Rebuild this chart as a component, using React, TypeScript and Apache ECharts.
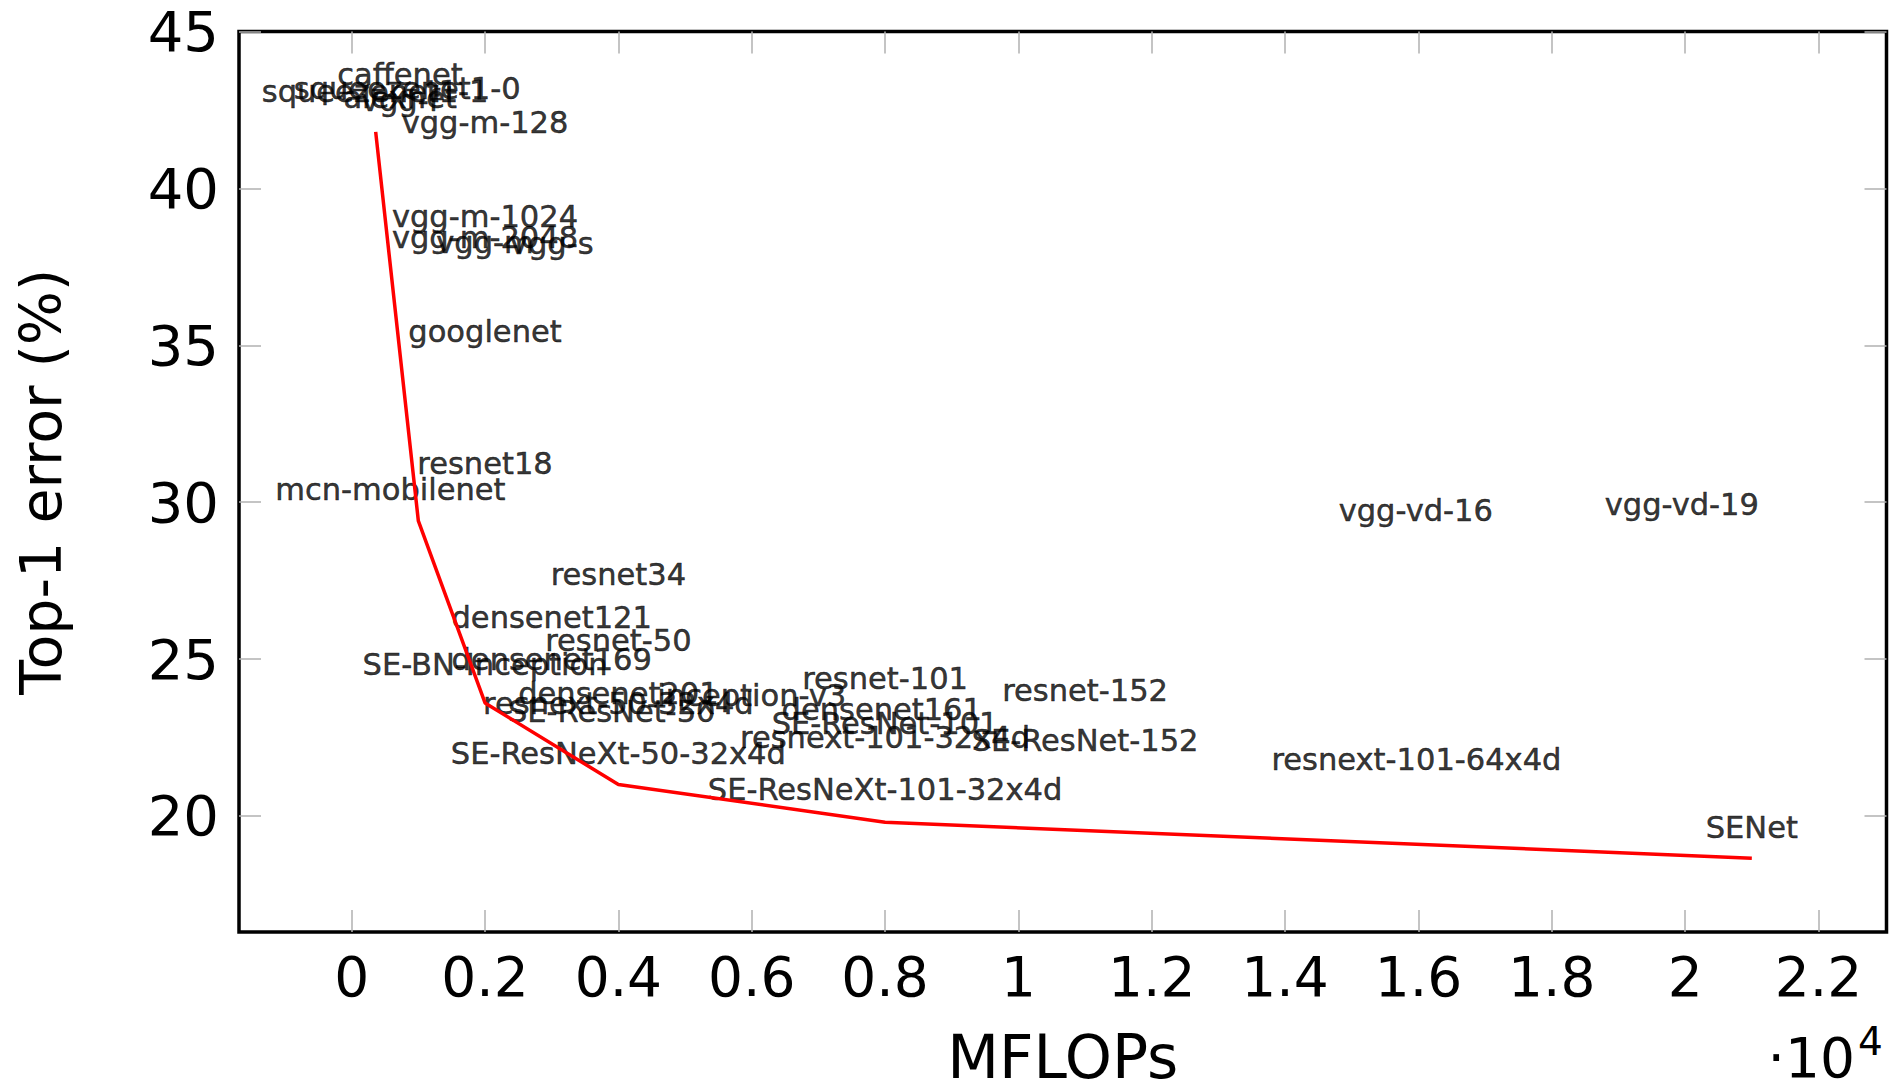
import React, { useEffect, useRef } from "react";
import * as echarts from "echarts";

// Model labels: name, compute (MFLOPs) and top-1 error (%)
const modelNames = [
  "squeezenet1-1", "squeezenet1-0", "caffenet", "alexnet", "vgg-f",
  "vgg-m-128", "vgg-m-1024", "vgg-m-2048", "vgg-m", "vgg-s",
  "googlenet", "resnet18", "mcn-mobilenet", "resnet34", "vgg-vd-16",
  "vgg-vd-19", "densenet121", "resnet-50", "densenet169", "SE-BN-Inception",
  "densenet201", "inception-v3", "resnext-50-32x4d", "SE-ResNet-50", "resnet-101",
  "densenet161", "SE-ResNet-101", "resnext-101-32x4d", "resnet-152", "SE-ResNet-152",
  "resnext-101-64x4d", "SE-ResNeXt-50-32x4d", "SE-ResNeXt-101-32x4d", "SENet",
];
const modelMflops = [
  352, 833, 724, 727, 727,
  2000, 2000, 2000, 2000, 3000,
  2000, 2000, 580, 4000, 15960,
  19950, 3000, 4000, 3000, 2000,
  4000, 6000, 4000, 3900, 8000,
  7950, 8000, 8000, 11000, 11000,
  15970, 4000, 8000, 21000,
];
const modelTop1Error = [
  42.1, 42.2, 42.65, 41.9, 41.8,
  41.1, 38.1, 37.45, 37.3, 37.25,
  34.45, 30.25, 29.4, 26.7, 28.75,
  28.95, 25.35, 24.6, 24.0, 23.85,
  22.9, 22.85, 22.6, 22.35, 23.4,
  22.4, 21.95, 21.5, 23.0, 21.4,
  20.8, 21.0, 19.85, 18.65,
];

// Pareto frontier (red line)
const frontierMflops = [360, 1000, 2000, 4000, 8000, 21000];
const frontierError = [41.8, 29.4, 23.6, 21.0, 19.8, 18.65];

// Axis ticks
const xTickValues = [0, 2000, 4000, 6000, 8000, 10000, 12000, 14000, 16000, 18000, 20000, 22000];
const yTickValues = [20, 25, 30, 35, 40, 45];

const FONT = "DejaVu Sans";

export default function App() {
  const ref = useRef<HTMLDivElement>(null);

  useEffect(() => {
    if (!ref.current) return;
    const chart = echarts.init(ref.current, null, { renderer: "svg" });

    const tickLine = { color: "#b0b0b0", width: 1.5 };
    const xFmt = (v: number) => String(+(v / 10000).toFixed(1));

    const scatterData = modelNames.map((n, i) => [modelMflops[i], modelTop1Error[i], n]);
    const lineData = frontierMflops.map((x, i) => [x, frontierError[i]]);

    chart.setOption({
      animation: false,
      backgroundColor: "#ffffff",
      grid: {
        left: 239,
        top: 31.5,
        width: 1647.5,
        height: 900.5,
        show: true,
        borderColor: "#000000",
        borderWidth: 3.5,
        backgroundColor: "transparent",
        containLabel: false,
        outerBoundsMode: "none",
      },
      xAxis: [
        {
          type: "value",
          position: "bottom",
          min: -1690,
          max: 23020,
          name: "MFLOPs",
          nameLocation: "middle",
          nameGap: 101,
          nameTextStyle: { fontFamily: FONT, fontSize: 60, lineHeight: 48, color: "#000" },
          axisLine: { show: false, onZero: false },
          splitLine: { show: false },
          axisTick: { show: true, inside: true, length: 22, lineStyle: tickLine, customValues: xTickValues },
          axisLabel: {
            show: true,
            customValues: xTickValues,
            formatter: xFmt,
            fontFamily: FONT,
            fontSize: 55,
            color: "#000",
            margin: 17,
          },
        },
        {
          type: "value",
          position: "top",
          min: -1690,
          max: 23020,
          axisLine: { show: false, onZero: false },
          splitLine: { show: false },
          axisTick: { show: true, inside: true, length: 22, lineStyle: tickLine, customValues: xTickValues },
          axisLabel: { show: false },
        },
      ],
      yAxis: [
        {
          type: "value",
          position: "left",
          min: 16.3,
          max: 45,
          name: "Top-1 error (%)",
          nameLocation: "middle",
          nameGap: 170,
          nameTextStyle: { fontFamily: FONT, fontSize: 57, color: "#000" },
          axisLine: { show: false, onZero: false },
          splitLine: { show: false },
          axisTick: { show: true, inside: true, length: 22, lineStyle: tickLine, customValues: yTickValues },
          axisLabel: {
            show: true,
            customValues: yTickValues,
            fontFamily: FONT,
            fontSize: 56,
            color: "#000",
            margin: 20,
          },
        },
        {
          type: "value",
          position: "right",
          min: 16.3,
          max: 45,
          axisLine: { show: false, onZero: false },
          splitLine: { show: false },
          axisTick: { show: true, inside: true, length: 22, lineStyle: tickLine, customValues: yTickValues },
          axisLabel: { show: false },
        },
      ],
      series: [
        {
          type: "scatter",
          xAxisIndex: 0,
          yAxisIndex: 0,
          data: scatterData,
          symbolSize: 1,
          itemStyle: { color: "rgba(0,0,0,0)" },
          z: 2,
          label: {
            show: true,
            position: "inside",
            offset: [0, -31],
            formatter: (p: any) => p.data[2],
            fontFamily: FONT,
            fontSize: 30.5,
            color: "#000000",
            textBorderColor: "#000000",
            textBorderWidth: 0.5,
          },
          emphasis: { disabled: true },
        },
        {
          type: "line",
          xAxisIndex: 0,
          yAxisIndex: 0,
          data: lineData,
          symbol: "none",
          lineStyle: { color: "#ff0000", width: 3.5 },
          itemStyle: { color: "#ff0000" },
          z: 5,
        },
      ],
      graphic: [
        {
          type: "text",
          x: 1855,
          y: 1058,
          style: {
            text: "·10",
            fontFamily: FONT,
            fontSize: 55,
            lineHeight: 44,
            fill: "#000",
            align: "right",
            verticalAlign: "middle",
          },
        },
        {
          type: "text",
          x: 1858,
          y: 1041,
          style: {
            text: "4",
            fontFamily: FONT,
            fontSize: 39,
            fill: "#000",
            align: "left",
            verticalAlign: "middle",
          },
        },
      ],
    });

    return () => chart.dispose();
  }, []);

  return (
    <div
      ref={ref}
      style={{ position: "fixed", left: 0, top: 0, width: 1901, height: 1084, background: "#fff" }}
    />
  );
}
